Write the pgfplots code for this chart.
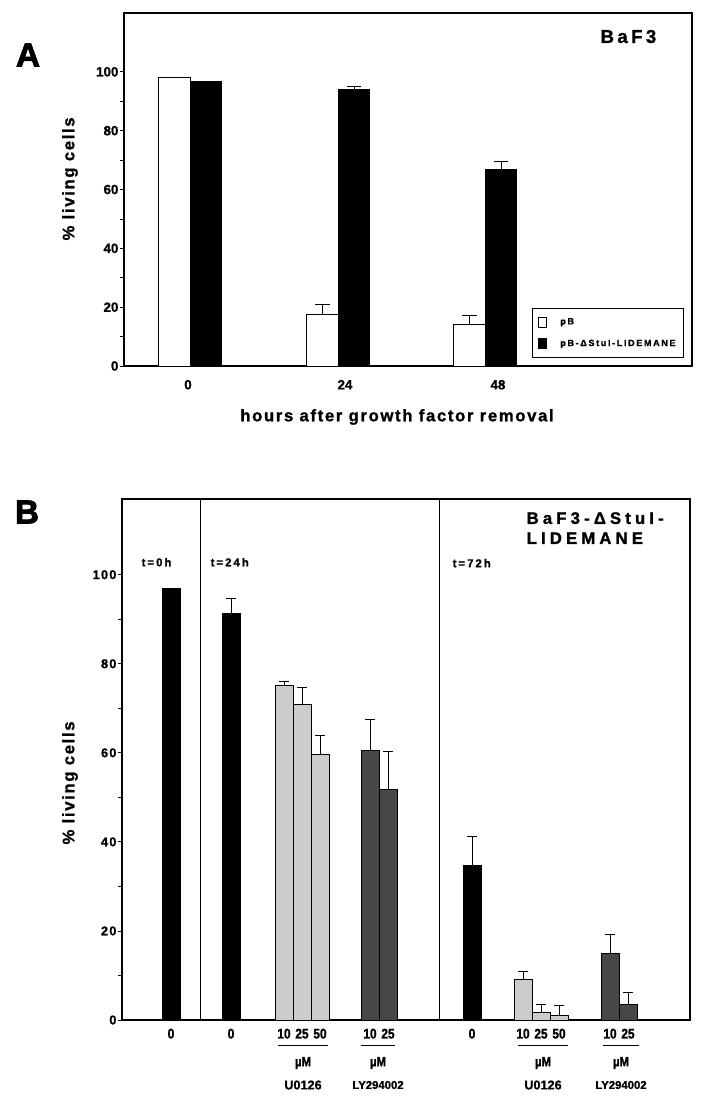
\documentclass[border=0pt]{standalone}
\usepackage{pgfplots}
\pgfplotsset{compat=1.18}
\usepackage{fontspec}
\setmainfont{Liberation Sans}[BoldFeatures={FakeBold=1.2}]
\newfontfamily\lsx{Liberation Sans}[LetterSpace=10, BoldFeatures={FakeBold=1.2}]
\newfontfamily\lsy{Liberation Sans}[LetterSpace=18, BoldFeatures={FakeBold=1.2}]
\newfontfamily\lsz{Liberation Sans}[LetterSpace=25, BoldFeatures={FakeBold=1.5}]
\newfontfamily\cond{Liberation Sans}[FakeStretch=0.85, BoldFeatures={FakeBold=1.2}]
\newfontfamily\heavy{Liberation Sans}[BoldFeatures={FakeBold=2.5}]

% 1 px of the reference = 0.75pt
\pgfplotsset{
  panel/.style={
    scale only axis,
    width=426pt,
    ymin=0,
    ytick={0,20,...,100},
    minor y tick num=1,
    ytick pos=left,
    tick align=outside,
    major tick length=3pt,
    minor tick length=3pt,
    tick style={line width=0.6pt, black},
    xtick style={draw=none},
    axis line style={line width=0.8pt},
    /pgf/number format/assume math mode=true,
    yticklabel style={inner xsep=1pt},
    clip=false,
  },
  bars/.style={ybar, bar shift=0pt, draw=black, line width=0.6pt,
    error bars/y dir=plus, error bars/y explicit,
    error bars/error bar style={line width=0.6pt, black},
    error bars/error mark options={rotate=90, mark size=#1, line width=0.6pt, black}},
  sq/.style={legend image code/.code={\draw[##1] (0pt,-3.75pt) rectangle (6pt,3.75pt);}},
}
\newcommand\grp[5]{%
  \draw[line width=0.7pt] ([yshift=-18.75pt]axis cs:#1,0) -- ([yshift=-18.75pt]axis cs:#2,0);
  \node[font=\cond\bfseries\fontsize{10}{11}\selectfont] at ([yshift=-32.25pt]axis cs:#3,0) {µM};
  \node[font=\bfseries\fontsize{#4}{10}\selectfont] at ([yshift=-48.75pt]axis cs:#3,0) {#5};
}

\begin{document}
\begin{tikzpicture}
\path[use as bounding box] (0,0) rectangle (530.25pt,-825pt);

\node[font=\heavy\bfseries\fontsize{25}{25}\selectfont] at (21pt,-41.25pt) {A};
\node[font=\heavy\bfseries\fontsize{25}{25}\selectfont] at (20.25pt,-384pt) {B};

% ---------------- panel A ----------------
\begin{axis}[panel,
  at={(93pt,-274.5pt)}, anchor=south west,
  height=264.75pt,
  xmin=124, xmax=692, ymax=120,
  xtick={188,345,498}, xticklabels={0,24,48},
  xticklabel style={yshift=-4pt},
  tick label style={font=\bfseries\fontsize{10}{12}\selectfont},
  legend style={at={(rel axis cs:0.986,0.023)}, anchor=south east,
    draw=black, line width=0.75pt, row sep=6pt, column sep=8pt,
    inner xsep=4pt, inner ysep=5pt,
    font=\lsy\bfseries\fontsize{6.8}{8}\selectfont},
  legend cell align=left,
]
\addplot[bars=5.6pt, fill=white, bar width=31.5, sq] coordinates {
  (174.5,98.0) +- (0,0)
  (322.5,17.6) +- (0,3.3)
  (469.5,14.2) +- (0,3.1)
};
\addlegendentry{pB}
\addplot[bars=5.6pt, fill=black, bar width=31.5, sq] coordinates {
  (206,96.8) +- (0,0)
  (354,94.0) +- (0,1.1)
  (501,66.9) +- (0,2.5)
};
\addlegendentry{pB-ΔStuI-LIDEMANE}

\node[anchor=east, font=\lsy\bfseries\fontsize{14}{14}\selectfont] at (axis cs:661,112) {BaF3};
\node[rotate=90, font=\lsx\bfseries\fontsize{12.5}{14}\selectfont] at ([xshift=-40.5pt]rel axis cs:0,0.53) {\% living cells};
\node[font=\lsx\bfseries\fontsize{12.5}{14}\selectfont] at ([yshift=-38.25pt]axis cs:397,0) {hours after growth factor removal};
\end{axis}

% ---------------- panel B ----------------
\begin{axis}[panel,
  at={(91.5pt,-765pt)}, anchor=south west,
  height=390.75pt,
  xmin=122, xmax=690, ymax=117,
  xtick={171,231,284,302,320,370,388,472,523,541,559,610,628},
  xticklabels={0,0,10,25,50,10,25,0,10,25,50,10,25},
  xticklabel style={font=\cond\bfseries\fontsize{10.5}{11}\selectfont, inner xsep=0pt},
  yticklabel style={font=\lsx\bfseries\fontsize{9.5}{11}\selectfont},
]
\addplot[bars=3.4pt, fill=black, bar width=18] coordinates {
  (171,97.0) +- (0,0)
  (231,91.4) +- (0,3.2)
  (472,34.7) +- (0,6.5)
};
\addplot[bars=3.4pt, fill=black!20, bar width=18] coordinates {
  (284,75.1) +- (0,0.9)
  (302,70.9) +- (0,3.7)
  (320,59.7) +- (0,4.2)
  (523,9.2) +- (0,1.8)
  (541,1.7) +- (0,1.8)
  (559,1.1) +- (0,2.2)
};
\addplot[bars=3.4pt, fill=black!72, bar width=18] coordinates {
  (370,60.5) +- (0,7.0)
  (388,51.7) +- (0,8.7)
  (610,14.9) +- (0,4.4)
  (628,3.5) +- (0,2.8)
};

\draw[line width=0.6pt] (axis cs:200,0) -- (axis cs:200,117);
\draw[line width=0.6pt] (axis cs:439,0) -- (axis cs:439,117);

\node[anchor=west, font=\lsy\bfseries\fontsize{8.5}{10}\selectfont] at (axis cs:137,102.8) {t=0h};
\node[anchor=west, font=\lsy\bfseries\fontsize{8.5}{10}\selectfont] at (axis cs:206,102.8) {t=24h};
\node[anchor=west, font=\lsy\bfseries\fontsize{8.5}{10}\selectfont] at (axis cs:448,102.6) {t=72h};
\node[anchor=west, font=\lsz\bfseries\fontsize{12.5}{14}\selectfont] at (axis cs:522,112.7) {BaF3-ΔStuI-};
\node[anchor=west, font=\lsz\bfseries\fontsize{12.5}{14}\selectfont] at (axis cs:522,108.2) {LIDEMANE};

\node[rotate=90, font=\lsx\bfseries\fontsize{12.5}{14}\selectfont] at ([xshift=-39pt]rel axis cs:0,0.455) {\% living cells};

% concentration groups below the axis
\grp{278}{328}{303}{9.5}{U0126}
\grp{361}{395}{378}{8.5}{LY294002}
\grp{518}{568}{543}{9.5}{U0126}
\grp{603}{639}{621}{8.5}{LY294002}
\end{axis}
\end{tikzpicture}
\end{document}
